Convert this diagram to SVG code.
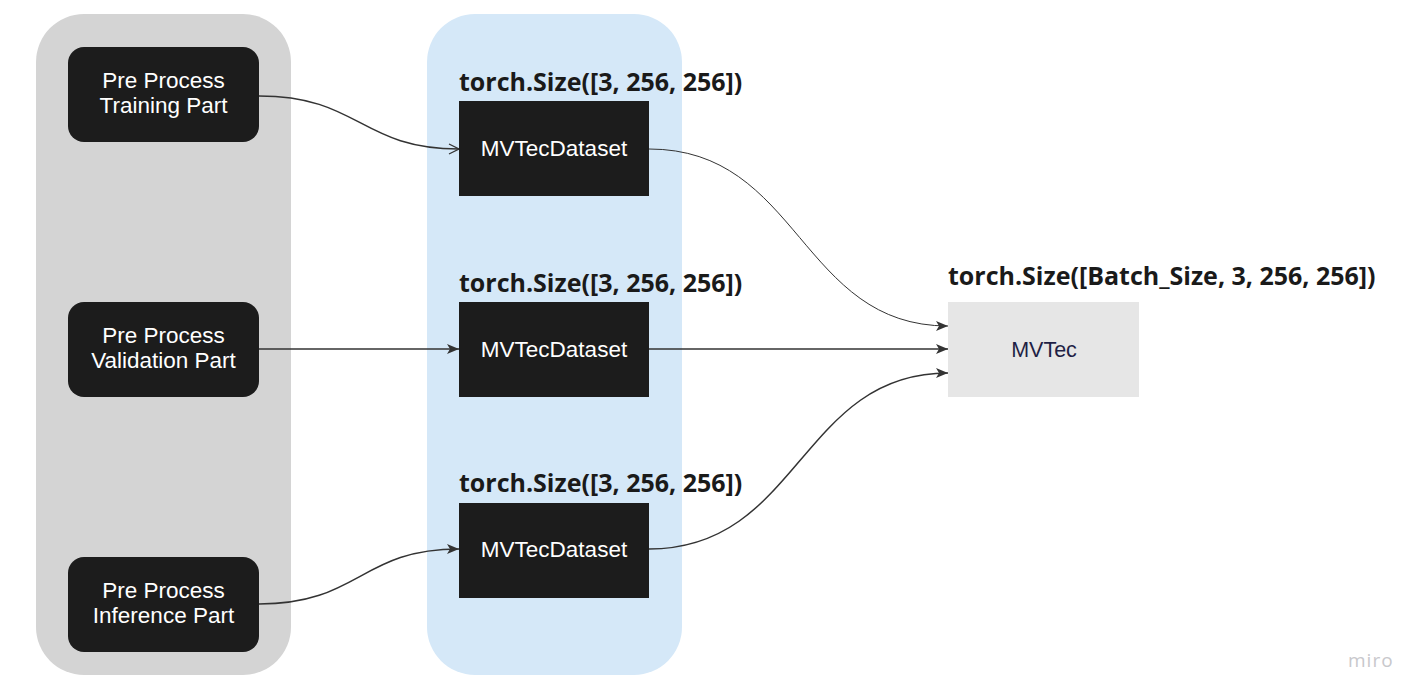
<svg xmlns="http://www.w3.org/2000/svg" width="1427" height="700" viewBox="0 0 1427 700">
<defs>
<style>
.panel-gray{fill:#d4d4d4}
.panel-blue{fill:#d5e8f8}
.pre{fill:#1c1c1c}
.ds{fill:#1c1c1c}
.wt{fill:#ffffff;font-family:"Liberation Sans",Arial,sans-serif;font-size:22.5px;text-anchor:middle}
.lbl{fill:#1a1a1a;font-family:"Open Sans","Noto Sans",sans-serif;font-weight:bold;font-size:25px}
.edge{fill:none;stroke:#333333;stroke-width:1.5}
.thin{stroke-width:1}
</style>
<marker id="fa" viewBox="0 0 12 10" refX="12" refY="5" markerWidth="12" markerHeight="10" markerUnits="userSpaceOnUse" orient="auto">
<path d="M0,0 L12,5 L0,10 L3,5 Z" fill="#333333"/>
</marker>
<marker id="oa" viewBox="0 0 12 12" refX="11" refY="6" markerWidth="12" markerHeight="12" markerUnits="userSpaceOnUse" orient="auto">
<path d="M1,1 L11,6 L1,11" fill="none" stroke="#333333" stroke-width="1.3"/>
</marker>
</defs>
<rect width="1427" height="700" fill="#ffffff"/>
<g id="panel-left"><rect class="panel-gray" x="36" y="14" width="255" height="661" rx="48"/></g>
<g id="panel-mid"><rect class="panel-blue" x="427" y="14" width="255" height="661" rx="48"/></g>
<g id="connectors">
<path class="edge" d="M259,96 C360,96 360,149 459,149" marker-end="url(#oa)"/>
<path class="edge" d="M259,349 L459,349" marker-end="url(#fa)"/>
<path class="edge" d="M259,604 C360,604 360,549 459,549" marker-end="url(#fa)"/>
<path class="edge thin" d="M649,149 C800,149 800,326 948,326" marker-end="url(#fa)"/>
<path class="edge" d="M649,349 L948,349" marker-end="url(#fa)"/>
<path class="edge" d="M649,549 C800,549 800,373 948,373" marker-end="url(#fa)"/>
</g>
<g id="node-training"><rect class="pre" x="68" y="47" width="191" height="95" rx="16"/><text class="wt" x="163.5" y="88">Pre Process</text><text class="wt" x="163.5" y="113">Training Part</text></g>
<g id="node-validation"><rect class="pre" x="68" y="302" width="191" height="95" rx="16"/><text class="wt" x="163.5" y="343">Pre Process</text><text class="wt" x="163.5" y="368">Validation Part</text></g>
<g id="node-inference"><rect class="pre" x="68" y="557" width="191" height="95" rx="16"/><text class="wt" x="163.5" y="598">Pre Process</text><text class="wt" x="163.5" y="623">Inference Part</text></g>
<g id="node-ds1"><text class="lbl" x="459" y="91">torch.Size([3, 256, 256])</text><rect class="ds" x="459" y="101" width="190" height="95"/><text class="wt" x="554" y="156">MVTecDataset</text></g>
<g id="node-ds2"><text class="lbl" x="459" y="292">torch.Size([3, 256, 256])</text><rect class="ds" x="459" y="302" width="190" height="95"/><text class="wt" x="554" y="357">MVTecDataset</text></g>
<g id="node-ds3"><text class="lbl" x="459" y="492">torch.Size([3, 256, 256])</text><rect class="ds" x="459" y="503" width="190" height="95"/><text class="wt" x="554" y="557">MVTecDataset</text></g>
<g id="node-mvtec"><text class="lbl" x="948" y="285">torch.Size([Batch_Size, 3, 256, 256])</text><rect x="948" y="302" width="191" height="95" fill="#e6e6e6"/><text class="wt" x="1044" y="357" style="fill:#1f1f45;font-size:21.5px">MVTec</text></g>
<text x="1348" y="667" font-family="Open Sans, sans-serif" font-size="19" fill="#c8c8cc" letter-spacing="1">miro</text>
</svg>
